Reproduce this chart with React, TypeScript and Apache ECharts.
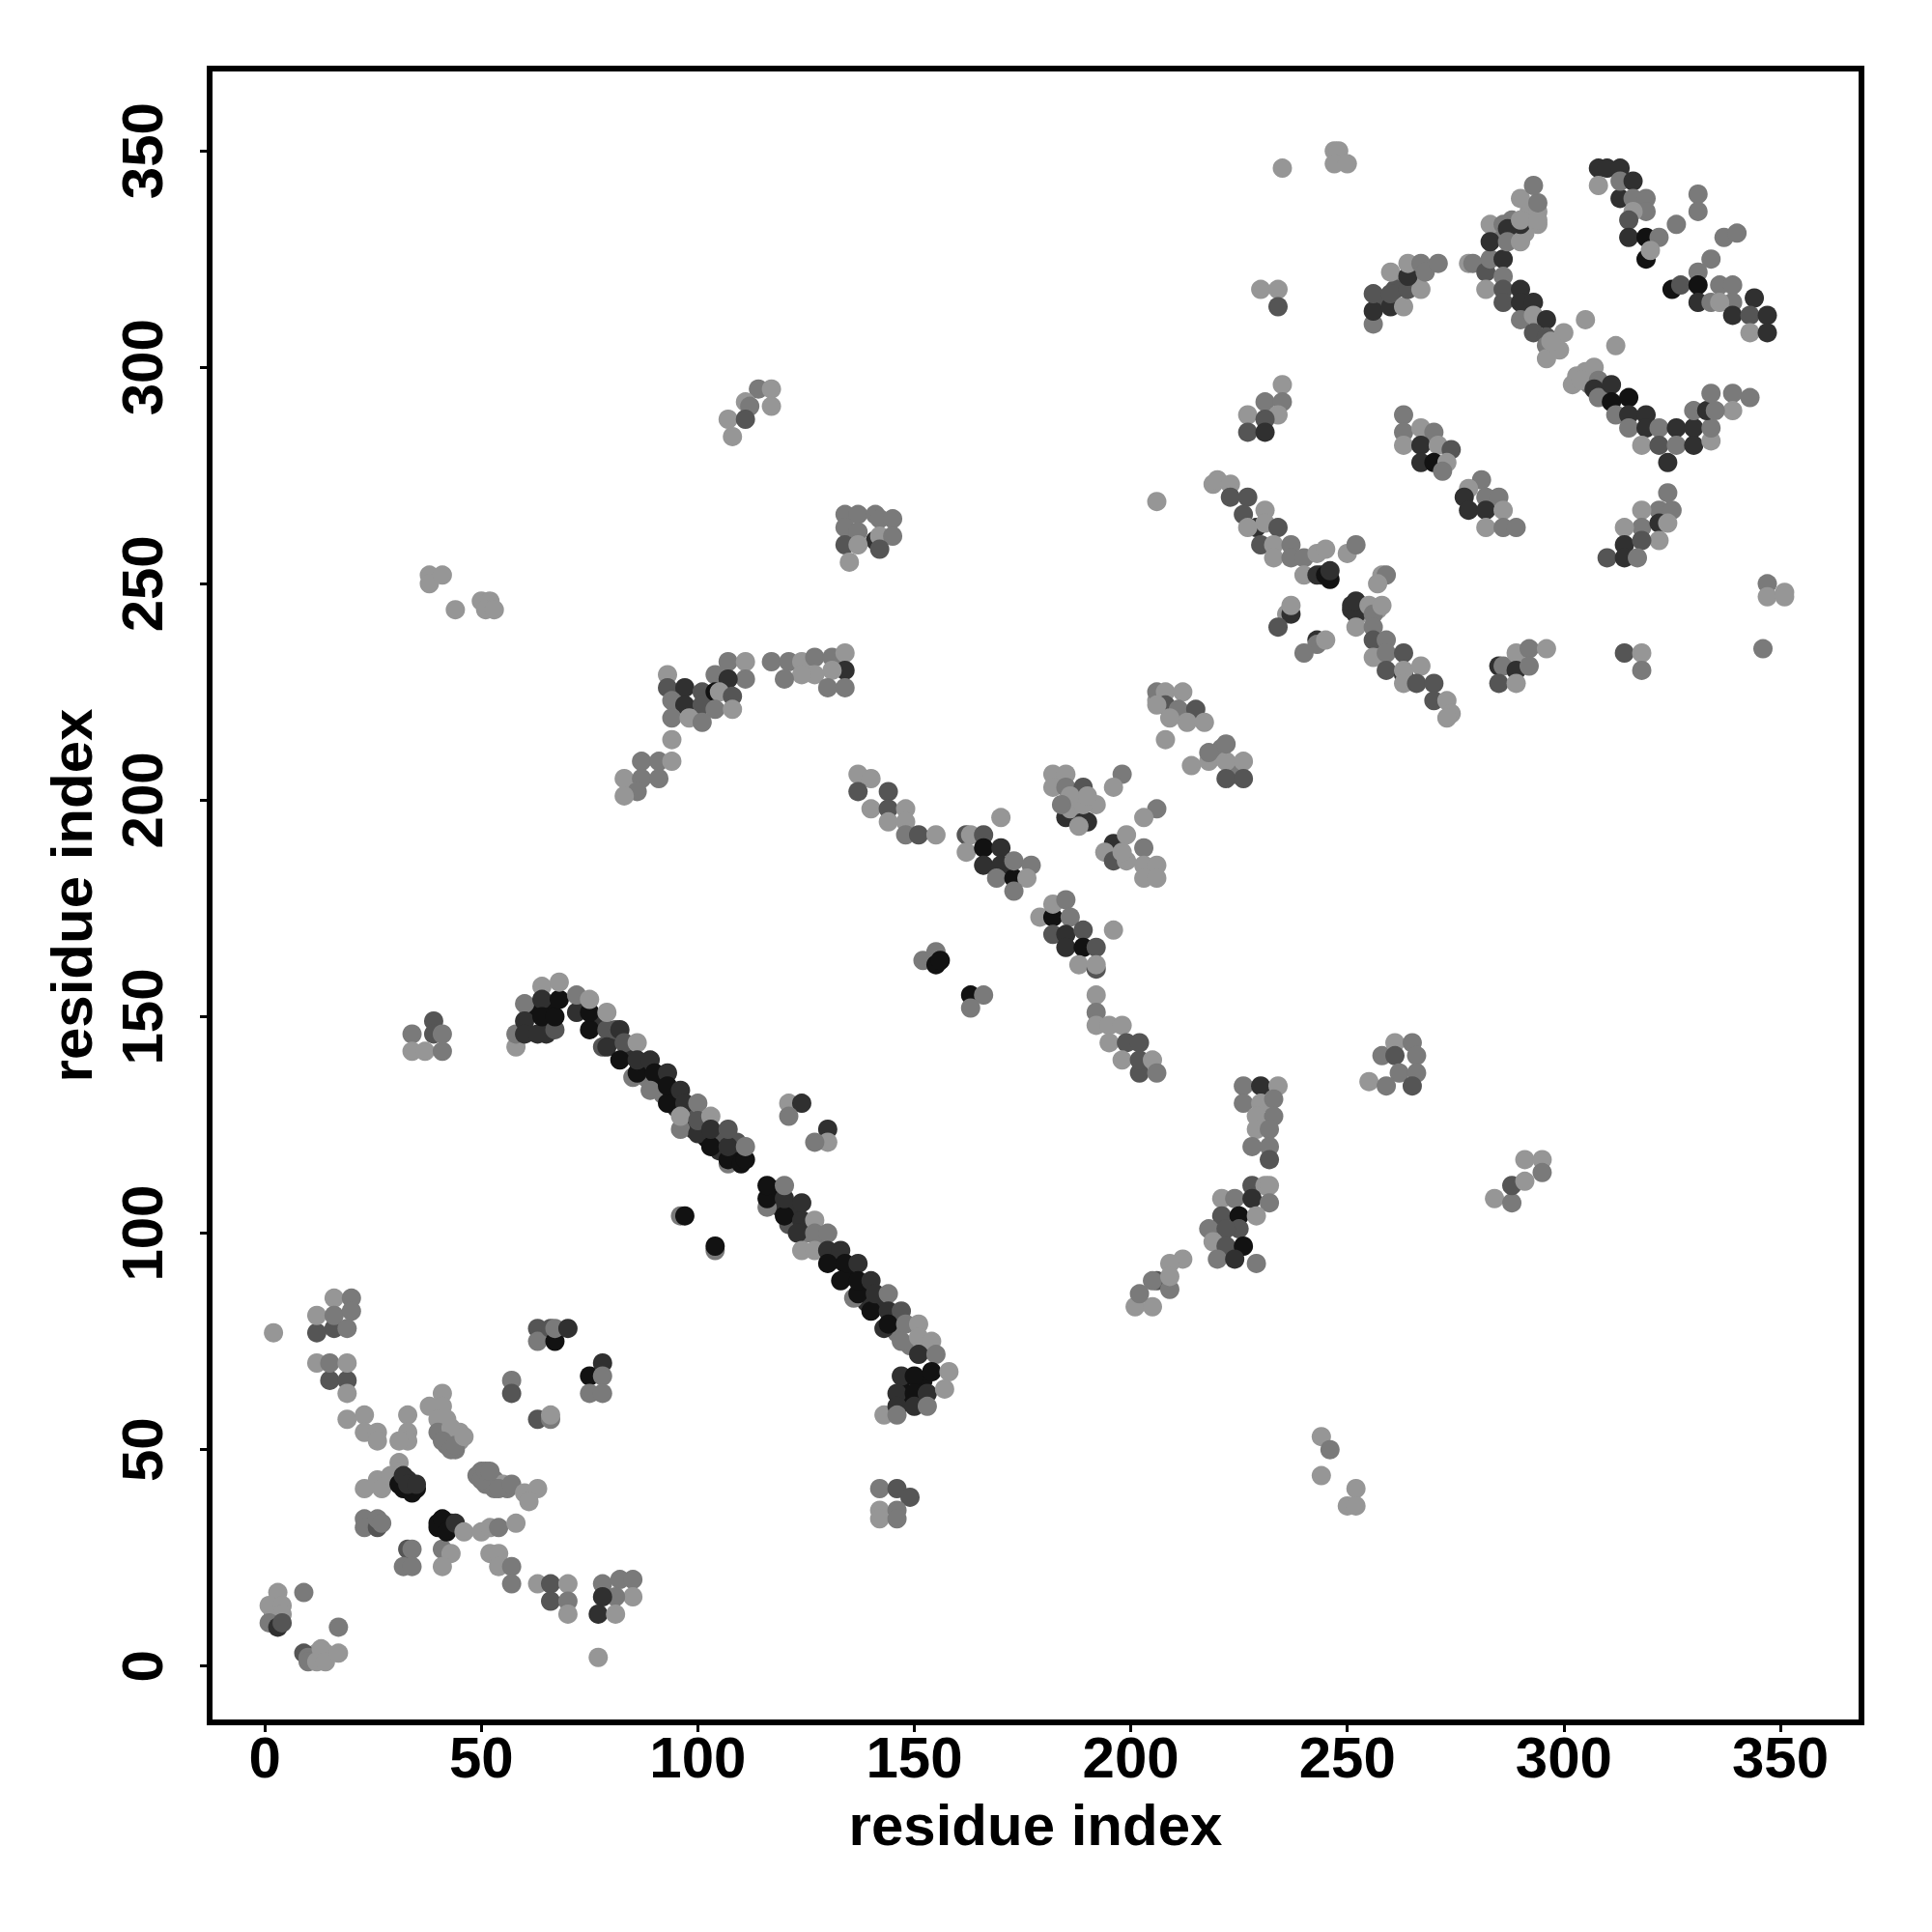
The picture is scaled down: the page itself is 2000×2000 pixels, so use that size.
import React, { useEffect, useRef } from "react";
import * as echarts from "echarts";

type P = [number, number, number];
// grey levels
const L = 150, G = 122, D = 85, K = 48, B = 18;

const tickValues = [0, 50, 100, 150, 200, 250, 300, 350];

const underLayer: P[] = [
  [42,54,L],[43,52,G],[44,53,L],[45,52,L],[45,54,L],[42,51,G],[44,50,G],
  [52,44,G],[50,45,G],[53,43,G],[55,42,L],[49,44,G],[51,42,G],[53,41,G],[56,41,G],
  [2,12,G],[3,13,L],[2,10,D],[3,11,G],[11,2,L],[12,3,L],[14,3,L],
  [33,43,K],[32,41,B],[34,41,B],[35,41,B],[41,33,B],[42,33,K],[43,33,K],[40,32,B],
  [61,151,G],[62,152,B],[66,148,K],[66,152,B],[65,146,K],[74,152,K],[76,148,G],[77,149,K],[80,145,K],[81,147,D],
  [84,142,B],[85,141,K],[87,139,B],[88,136,G],[91,135,B],[92,132,G],[94,131,B],[95,129,K],[98,128,D],[99,124,K],
  [102,122,B],[105,119,K],[106,122,D],[109,117,B],[109,121,D],
  [117,109,B],[118,110,B],[119,106,K],[122,105,K],[121,102,D],[125,100,G],[128,98,G],[131,95,B],[132,94,B],
  [135,91,B],[136,90,B],[138,88,B],[139,84,K],[142,84,K],[145,80,K],[146,77,G],[149,74,G],[152,74,L],
  [149,65,B],[151,65,K],[152,66,B],[148,61,B],
  [292,336,L],[294,336,L],[292,333,L],[291,331,L],[288,334,G],[285,331,G],
  [262,320,G],[261,318,D],[259,316,D],[266,320,L],[305,299,L],[303,298,L],[306,296,G],
  [206,223,L],[210,220,L],[212,220,G],[219,210,L],[221,212,G],[223,208,L],[224,206,G],
  [246,251,B],[244,252,K],[251,244,K],[251,245,K],[253,245,B],[255,243,L],[257,244,L],
];

const lowerLeft: P[] = [
  [2,77,L],[12,77,D],[16,78,D],[16,85,L],[20,85,G],[12,81,L],[16,81,G],[20,82,G],[19,78,G],
  [15,66,D],[19,66,D],[12,70,L],[15,70,G],[19,70,L],[19,63,L],
  [19,57,L],[23,58,L],[23,54,L],[26,54,L],[26,52,L],
  [33,58,L],[33,54,L],[33,52,L],[31,52,L],[31,47,L],[31,45,L],
  [23,41,L],[26,43,L],[27,41,L],[29,44,L],
  [31,42,B],[32,44,K],[34,40,B],[33,42,K],[35,42,K],
  [23,34,G],[23,32,G],[26,32,D],[26,34,G],[27,33,G],
  [33,27,D],[34,27,G],[32,23,G],[34,23,G],[41,27,G],[43,26,L],[41,23,L],
  [38,60,L],[41,63,L],[41,60,L],[40,57,L],[42,57,L],[40,54,G],[43,55,L],[41,52,G],[43,50,G],[44,51,G],[46,53,L],
  [50,43,G],[51,45,G],[52,45,G],[54,41,G],[57,42,G],[60,40,L],[63,41,L],[61,38,L],
  [40,33,B],[41,34,B],[42,31,B],[44,33,K],[46,31,L],[50,31,L],[52,32,L],[54,32,G],[58,33,L],
  [52,26,L],[54,26,L],[54,23,L],[57,23,G],[57,19,G],
  [63,19,L],[66,19,D],[70,19,L],[66,15,D],[70,15,G],[70,12,L],
  [78,19,G],[82,20,G],[85,20,G],[85,16,L],[81,16,G],[78,16,K],[77,12,K],[81,12,L],[77,2,L],
  [3,17,L],[9,17,G],[1,14,L],[4,14,L],[4,12,L],[1,10,G],[3,9,K],[4,10,D],[17,9,G],
  [9,3,D],[10,2,G],[10,1,G],[12,1,L],[13,4,L],[14,1,L],[17,3,L],
  [63,78,D],[63,75,G],[66,78,D],[67,75,B],[67,78,G],[70,78,K],
  [75,67,B],[78,70,K],[78,67,G],[75,63,G],[78,63,G],
  [57,66,G],[57,63,D],[63,57,D],[66,57,G],[66,58,L],
];

const strandA: P[] = [
  [58,143,L],[58,146,G],[60,153,G],[60,149,K],[60,146,K],[63,146,K],[64,157,L],[64,154,K],[64,150,B],
  [67,147,D],[67,150,B],[68,154,B],[68,158,L],
  [72,151,K],[72,155,G],[75,147,B],[75,151,B],[75,154,L],[79,147,D],[78,143,D],[79,143,K],[79,151,L],
  [82,147,K],[83,144,D],[86,144,L],[82,140,B],[85,136,G],[86,137,B],[86,140,K],[89,140,K],[90,137,B],[93,137,K],
  [89,133,G],[93,130,B],[93,134,B],[96,133,K],[97,130,K],[100,130,G],[96,124,G],[96,127,L],[100,123,K],[100,126,D],
  [103,127,L],[103,120,B],[103,124,K],[107,116,G],[107,117,B],[107,120,K],[107,124,D],[110,116,B],[111,117,B],[111,120,G],
];

const strandB: P[] = [
  [116,106,G],[116,108,B],[116,111,B],[120,104,B],[120,108,K],[120,111,G],[124,103,K],[124,107,K],[127,103,L],
  [123,100,K],[127,100,G],[130,100,G],[124,96,L],[127,96,L],[130,96,K],[133,96,K],[130,93,B],[134,93,B],[137,93,K],
  [133,89,B],[136,85,G],[137,86,B],[137,89,B],[140,89,K],[140,82,B],[141,86,K],[144,86,G],[144,82,K],[147,82,D],
  [143,78,K],[144,79,B],[148,79,G],[151,79,L],[147,75,G],[151,76,L],[154,75,L],[151,72,K],[155,72,G],
  [147,67,K],[150,67,B],[154,68,B],[158,68,L],[146,63,K],[150,63,B],[153,63,K],[157,64,L],[143,58,L],[146,60,K],[146,58,G],[150,60,K],[153,60,G],
];

const offStrand: P[] = [
  [121,130,L],[124,130,K],[121,127,G],[130,124,K],[130,121,L],[127,121,G],
  [96,104,G],[97,104,B],[104,96,G],[104,97,B],
  [152,163,G],[155,165,G],[155,162,B],[156,163,B],[163,155,B],[166,155,G],[163,152,G],
  [34,146,G],[39,149,D],[39,146,D],[41,146,G],[34,142,L],[37,142,L],[41,142,G],
  [38,252,L],[38,250,L],[41,252,L],[44,244,L],[50,246,L],[52,246,L],[51,244,L],[53,244,L],
  [142,41,G],[146,41,D],[149,39,D],[142,36,L],[146,36,G],[142,34,L],[146,34,G],
  [244,53,L],[246,50,G],[244,44,L],[252,41,L],[250,37,L],[252,37,L],
  [255,135,L],[258,141,G],[261,144,L],[265,144,G],[261,141,D],[266,141,G],[262,137,G],[266,137,G],[259,134,G],[265,134,D],
  [284,108,L],[288,107,G],[288,111,D],[291,112,L],[291,117,L],[295,117,L],[295,114,G],
  [346,235,G],[347,250,G],[347,247,L],[351,248,L],[351,247,L],[206,269,L],
];

const middleStrands: P[] = [
  [114,295,G],[117,295,L],[117,291,L],[111,292,L],[112,291,G],[107,288,L],[111,288,D],[108,284,L],
  [134,266,G],[137,266,G],[141,266,G],[142,265,G],[145,265,G],[134,263,G],[137,262,G],[141,260,K],[142,261,L],[145,261,G],[134,259,D],[137,259,L],[142,258,D],[135,255,L],
  [93,229,L],[93,226,D],[97,226,K],[94,223,G],[97,222,K],[101,225,D],[101,222,D],[104,229,G],[107,232,G],[111,232,L],[111,228,G],[107,228,K],[104,225,B],[105,225,L],[108,224,D],[104,221,G],[108,221,L],[94,219,G],[98,219,L],[101,218,G],[94,214,L],
  [87,209,G],[91,209,G],[94,209,L],[83,205,L],[87,205,G],[91,205,G],[86,202,G],[83,201,L],
  [117,232,G],[121,232,G],[124,232,L],[127,233,G],[131,233,G],[134,234,L],[134,230,K],[131,230,L],[127,229,L],[124,229,L],[120,228,G],[130,226,G],[134,226,G],
  [137,206,L],[140,205,L],[137,202,D],[140,198,L],[144,202,D],[144,198,D],[148,198,L],[144,195,L],[148,195,L],[148,192,G],[151,192,D],[155,192,L],
  [170,196,L],[162,192,D],[163,192,L],[166,192,D],[162,188,L],[166,189,B],[166,185,K],[170,189,K],[170,185,K],[169,182,G],[173,182,B],[173,186,G],[177,185,G],[176,182,L],[173,179,G],
  [179,173,L],[182,173,B],[182,176,L],[185,177,G],[182,169,D],[186,173,G],[185,169,K],[189,170,D],[185,166,K],[189,166,B],[192,166,D],[188,162,L],[192,161,D],[192,162,L],[196,170,L],
  [192,155,L],[192,151,G],[192,148,L],[195,148,L],[198,148,L],[195,144,L],[199,144,D],[202,144,D],[198,140,L],[202,137,D],[202,140,D],[205,140,L],[206,137,G],
  [182,206,L],[185,206,L],[182,203,L],[185,203,G],[189,203,D],[198,206,G],[196,203,L],[185,196,K],[186,198,L],[189,195,K],[190,195,K],[192,199,L],[189,199,L],[188,194,L],[186,201,L],[190,201,L],[184,199,G],
  [206,198,G],[203,196,L],[196,190,K],[194,188,L],[199,192,L],[196,186,D],[199,186,L],[198,188,L],[203,189,G],[203,185,L],[206,185,L],[203,182,L],[206,182,L],
  [206,225,G],[208,225,L],[212,225,L],[208,222,D],[206,222,L],[211,221,G],[215,221,D],[213,218,L],[209,219,L],[217,218,L],[208,214,L],
  [214,208,L],[218,209,L],[218,211,G],[222,209,L],[222,213,G],[226,209,L],[222,205,D],[226,205,D],
  [226,134,G],[230,134,K],[234,134,L],[226,130,G],[230,130,L],[233,131,G],[229,127,L],[233,127,G],[229,124,L],[232,124,G],[228,120,G],[232,120,G],[232,117,D],
  [228,111,D],[231,111,L],[232,111,L],[221,108,L],[224,108,G],[228,108,K],[232,107,G],[221,104,D],[225,104,B],[229,104,L],[225,101,D],[218,101,G],[222,101,D],[219,98,L],[222,97,D],[226,97,B],
  [212,94,L],[220,94,G],[224,94,K],[229,93,G],[201,83,L],[205,83,L],[206,89,D],[209,87,G],[209,93,L],[205,89,G],[202,86,G],[209,90,L],
];

const upperRightA: P[] = [
  [235,346,L],[247,350,L],[248,350,L],[247,347,L],[250,347,L],
  [230,318,L],[234,318,L],[234,314,D],
  [256,310,G],[256,313,K],[256,317,D],[260,314,K],[260,317,D],[263,314,L],[264,318,D],[267,318,L],[260,322,L],[264,321,K],[264,324,L],[267,324,G],[268,322,G],[271,324,G],
  [278,324,L],[279,324,G],[282,322,D],[283,325,G],[286,325,K],[286,321,G],[282,318,L],[286,318,D],[286,315,D],[290,318,K],[290,315,K],[293,315,K],[290,311,G],[293,312,L],[296,311,K],[293,308,D],[296,307,D],[296,305,G],[296,302,L],[300,308,L],[299,304,L],[297,306,L],
  [283,333,L],[286,333,G],[287,332,K],[283,329,K],[287,329,G],[290,329,L],[290,333,K],[290,334,L],[294,333,L],[294,334,L],[290,339,L],[294,338,G],[293,342,G],
  [305,311,L],[312,305,L],
  [308,346,K],[310,346,K],[313,346,K],[308,342,L],[313,339,K],[313,343,G],[316,343,K],[316,339,G],[319,339,G],[319,336,G],[316,336,L],[315,334,D],[315,330,K],[319,330,B],[322,330,G],[319,325,B],[320,327,L],[326,333,G],
  [331,340,G],[331,336,G],[337,330,G],[340,331,G],[334,325,G],
  [325,318,B],[327,319,D],[331,322,G],[331,319,B],[331,315,K],[334,315,G],[336,319,G],[339,319,G],[339,315,G],[336,315,L],[344,316,K],[339,312,K],[343,312,D],[347,312,K],[343,308,L],[347,308,K],
];

const upperRightB: P[] = [
  [306,299,L],[307,300,L],[302,296,L],[304,297,L],[308,297,G],[307,295,K],[308,293,G],[311,296,K],[311,292,B],[312,289,G],[315,293,B],[315,289,K],[319,289,K],[315,286,G],[319,286,K],[322,286,G],[318,282,L],[326,286,K],[322,282,D],[326,282,G],[324,278,K],[330,286,K],[330,282,K],[334,283,L],[334,286,G],[330,290,G],[333,290,K],[334,294,G],[339,294,G],[343,293,G],[339,290,L],[335,290,G],
  [235,296,L],[231,292,G],[235,292,G],[234,289,L],[227,289,L],[231,288,D],[227,285,D],[231,285,K],
  [263,289,G],[263,285,G],[263,282,L],[267,286,L],[270,285,G],[267,282,K],[267,278,K],[271,282,L],[274,281,D],[270,278,B],[273,278,L],[272,276,G],
  [281,274,G],[278,272,L],[277,270,K],[282,270,G],[285,270,G],[278,267,K],[282,267,K],[286,267,L],[282,263,L],[286,263,G],[289,263,G],
  [324,271,G],[322,267,G],[325,267,G],[318,267,L],[318,263,G],[322,264,K],[324,264,L],[322,260,L],[314,263,L],[314,259,K],[318,260,D],[310,256,D],[314,256,K],[317,256,G],
  [219,273,L],[220,274,L],[223,273,L],[223,270,D],[227,270,D],[226,266,D],[229,263,K],[231,267,L],[231,264,L],[227,263,L],[234,263,D],[230,259,D],[233,259,L],[237,259,G],[233,256,L],[237,256,G],[240,256,G],[240,252,L],[243,257,L],[245,258,L],[243,252,K],[245,252,B],[246,253,K],[250,257,L],[252,259,G],
  [236,243,L],[237,243,K],[237,245,L],[234,240,D],[243,237,K],[243,236,G],[245,237,L],[240,234,G],
  [252,243,K],[252,246,K],[252,240,L],[255,245,L],[256,243,G],[258,245,L],[258,252,L],[259,252,G],[257,250,L],
  [256,240,G],[256,237,D],[259,237,G],[256,233,L],[259,234,G],[259,230,D],[263,234,D],[263,229,K],[263,230,L],[267,231,L],[263,227,L],[266,227,D],[270,227,D],[270,223,D],[273,223,L],[274,220,L],[273,219,L],
  [285,231,K],[286,231,G],[289,234,L],[292,235,G],[296,235,L],[289,230,K],[292,231,G],[285,227,D],[289,227,L],
  [314,234,D],[318,234,L],[318,230,G],
];

const points: P[] = [...underLayer, ...lowerLeft, ...strandA, ...strandB, ...offStrand, ...middleStrands, ...upperRightA, ...upperRightB];

const FONT = '"Liberation Sans", Arial, sans-serif';

export default function App() {
  const ref = useRef<HTMLDivElement>(null);
  useEffect(() => {
    const chart = echarts.init(ref.current!, undefined, { renderer: "svg" });
    const axisBase = {
      type: "value",
      name: "residue index",
      nameLocation: "middle",
      nameTextStyle: { fontFamily: FONT, fontWeight: "bold", fontSize: 60, color: "#000" },
      splitLine: { show: false },
      axisLine: { show: false, onZero: false },
      axisTick: { show: true, length: 10, lineStyle: { color: "#000", width: 3 }, customValues: tickValues },
      axisLabel: { fontFamily: FONT, fontWeight: "bold", fontSize: 60, color: "#000", customValues: tickValues },
    };
    chart.setOption({
      animation: false,
      backgroundColor: "#fff",
      grid: { show: true, left: 217, right: 73, top: 71, bottom: 217, borderColor: "#000", borderWidth: 6, backgroundColor: "#fff" },
      xAxis: { ...axisBase, min: -12.75, max: 368.75, nameGap: 76, axisLabel: { ...axisBase.axisLabel, margin: 6 } },
      yAxis: { ...axisBase, min: -13, max: 369, nameGap: 113, axisLabel: { ...axisBase.axisLabel, rotate: 90, margin: 70, verticalAlign: "middle", align: "center" } },
      series: [{
        type: "scatter",
        symbol: "circle",
        symbolSize: 20,
        data: points,
        encode: { x: 0, y: 1 },
        itemStyle: {
          opacity: 1,
          color: (p: any) => { const g = p.value[2]; return `rgb(${g},${g},${g})`; },
        },
      }],
    });
    return () => chart.dispose();
  }, []);
  return <div ref={ref} style={{ position: "absolute", left: 0, top: 0, width: 2000, height: 2000 }} />;
}
